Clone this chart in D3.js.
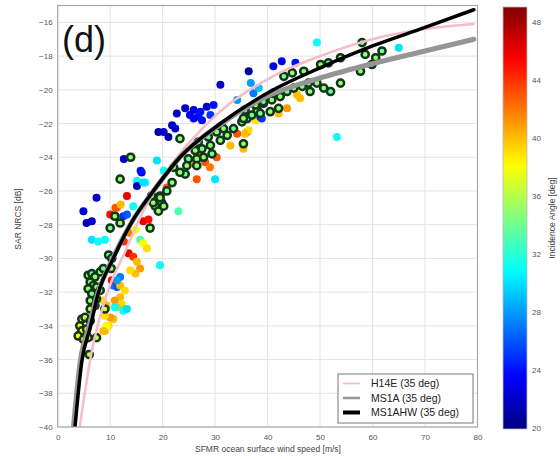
<!DOCTYPE html>
<html><head><meta charset="utf-8">
<script src="https://cdn.jsdelivr.net/npm/d3@7"></script>
<style>body{margin:0;background:#fff;} text{font-family:"Liberation Sans",Arial,sans-serif;}</style>
</head><body><svg id="c" width="560" height="459"></svg>
<script>
// ---------- data ----------
const xTicks = [0,10,20,30,40,50,60,70,80];
const yTicks = [-40,-38,-36,-34,-32,-30,-28,-26,-24,-22,-20,-18,-16];
const cTicks = [20,24,28,32,36,40,44,48];
const panelLabel = "(d)";
const xTitle = "SFMR ocean surface wind speed [m/s]";
const yTitle = "SAR NRCS [dB]";
const cTitle = "Incidence Angle [deg]";
const modelNames = ["H14E (35 deg)","MS1A (35 deg)","MS1AHW (35 deg)"];

// model curves (wind speed m/s, NRCS dB)
const h14eU = [4.2,6.5,9.5,13,16,20,28.5,41,50,60,70,79.3];
const h14eS = [-40,-35.5,-32,-29.5,-27.4,-25.2,-22.0,-19.2,-18.0,-17.0,-16.4,-16.1];
const ms1aU = [3.0,4.3,6.0,7.6,10.5,14.2,18,23.3,31,40.5,50,60,70,79.3];
const ms1aS = [-40,-36.1,-34.0,-32.1,-30,-27.8,-26.1,-24.0,-22.05,-20.3,-19.3,-18.45,-17.7,-17.0];
const ms1ahwU = [3.3,4.6,6.2,7.7,10.6,14.2,18,23.3,31,40.5,50,60,70,79.3];
const ms1ahwS = [-40,-36.1,-34.1,-32.1,-30,-27.8,-26.1,-24.0,-22.0,-20.1,-18.7,-17.4,-16.3,-15.25];

// plain scatter points: wind, NRCS, incidence angle
const dotU = [7.4,13.2,4.9,5.5,6.5,11.3,10.6,12.5,13.2,16.3,17.3,6.5,7.7,9.0,15.7,16.3,17.0,13.5,14.4,15.1,15.7,14.8,13.8,19.5,10.6,11.3,10.3,11.9,12.8,11.9,10.9,12.2,12.8,11.3,12.5,13.2,10.9,10.6,9.7,9.0,10.0,8.7,9.3,9.0,9.3,8.7,11.9,11.3,11.0,12.0,10.0,14.4,13.8,14.8,12.6,
  12.6,16.0,15.1,16.7,15.8,15.1,23.0,30.0,26.2,28.1,26.5,30.3,29.0,20.8,32.9,36.1,37.7,34.2,35.4,26.5,18.9,20.2,16.3,
  36.4,31.0,22.7,24.3,25.9,27.2,25.2,26.8,28.4,29.7,29.1,27.5,25.9,21.8,22.4,19.2,21.1,20.2,38.6,34.2,37.3,38.3,41.1,42.7,45.3,36.8,38.9,45.6,46.2,43.7,42.1,36.4,35.7,49.4,53.2,65.0];
const dotS = [-26.4,-26.3,-27.2,-27.9,-27.8,-27.0,-27.5,-27.5,-27.4,-27.8,-27.7,-28.9,-29.0,-28.9,-28.9,-29.1,-29.4,-29.7,-29.9,-30.2,-30.6,-30.9,-30.7,-30.4,-31.6,-31.7,-31.3,-31.6,-31.9,-32.3,-32.5,-32.7,-33.0,-32.9,-33.1,-33.0,-32.9,-33.6,-34.0,-34.3,-33.5,-32.5,-32.8,-33.4,-34.0,-34.3,-31.1,-31.3,-27.0,-26.8,-27.4,-26.9,-28.5,-28.3,-29.0,
  -24.1,-24.9,-25.4,-25.5,-24.8,-25.7,-27.2,-25.3,-24.4,-24.3,-25.3,-24.0,-24.6,-25.8,-23.3,-22.5,-21.8,-22.6,-23.5,-23.8,-24.2,-24.8,-25.5,
  -18.9,-19.7,-21.4,-21.1,-21.2,-21.3,-21.5,-21.6,-21.0,-20.9,-21.5,-21.8,-21.7,-22.1,-22.3,-22.5,-22.8,-22.5,-21.6,-20.6,-20.2,-19.9,-18.6,-18.3,-18.4,-19.6,-21.7,-20.3,-20.5,-21.1,-21.4,-22.4,-22.6,-17.2,-22.8,-17.5];
const dotA = [22,46,22,21,22,42,40,25,26,46,45,30,31,31,33,38,39,46,44,40,41,40,39,31,27,26,45,40,39,40,41,39,40,40,31,30,31,40,39,40,41,39,40,39,38,40,27,28,43,40,45,31,42,38,44,
  22,23,31,31,24,22,33,30,42,43,43,43,42,43,40,43,39,43,40,43,30,31,30,
  21,22,22,22,23,24,23,24,22,24,25,24,23,22,22,21,21,22,24,28,27,29,23,23,24,28,25,40,40,41,40,39,40,31,31,30];

// ringed scatter points (near 35 deg): wind, NRCS, incidence angle
const ringU = [5.8,6.5,7.1,6.2,6.8,5.8,7.4,6.5,8.1,6.2,7.4,7.1,6.2,8.1,8.7,9.7,10.3,10.2,9.0,
  4.6,5.2,6.2,4.2,4.6,5.5,3.9,4.9,5.8,7.4,6.0,
  10.9,11.9,10.0,17.9,19.5,19.8,18.6,19.2,17.6,11.9,13.9,
  23.3,26.8,28.7,30.3,31.6,33.5,35.1,36.1,37.0,38.0,39.2,29.1,27.5,26.2,31.0,32.3,29.4,27.8,26.5,24.9,24.6,26.5,24.3,23.3,22.1,21.8,20.8,19.5,18.2,20.2,35.4,
  35.7,35.4,37.7,39.2,40.8,42.4,43.7,45.0,46.6,47.8,49.4,50.7,52.0,50.1,51.6,53.9,53.9,43.1,44.7,46.9,58.0,58.6,59.9,61.8,57.7,40.5,42.1,38.6,48.1,41.1,60.6];
const ringS = [-31.0,-30.9,-31.1,-31.4,-31.6,-31.8,-31.7,-32.1,-31.9,-32.5,-32.4,-32.8,-33.0,-30.8,-30.6,-29.8,-30.0,-30.6,-33.0,
  -33.6,-33.5,-33.7,-34.0,-34.3,-34.2,-34.6,-34.8,-34.7,-34.7,-35.7,
  -27.5,-27.9,-28.2,-26.3,-26.3,-26.7,-26.9,-27.2,-28.2,-25.3,-24.0,
  -22.9,-23.1,-22.8,-22.5,-22.3,-22.3,-21.9,-21.7,-21.5,-21.2,-20.8,-23.3,-23.5,-23.6,-23.0,-22.7,-23.8,-24.0,-24.1,-24.1,-24.5,-24.5,-25.0,-24.9,-24.6,-25.5,-26.0,-26.4,-26.7,-26.9,-23.2,
  -21.2,-21.7,-20.9,-20.7,-20.6,-20.4,-20.1,-19.9,-19.8,-19.6,-19.6,-19.9,-20.1,-18.5,-18.4,-18.1,-19.6,-19.2,-19.0,-18.9,-17.2,-17.9,-18.5,-17.7,-18.9,-21.3,-21.1,-21.4,-20.1,-20.2,-18.1];
const ringA = [35,34,35,35,34,35,35,34,35,35,35,36,36,35,34,34,35,35,37,
  38,37,37,38,38,37,38,38,37,36,36,
  35,35,34,35,35,36,35,35,35,35,35,
  35,35,34,35,35,34,35,35,34,35,35,35,34,35,35,35,34,35,35,34,35,35,34,35,35,35,34,35,35,35,35,
  34,35,35,34,35,35,34,35,35,34,35,35,34,35,34,35,35,34,35,35,34,35,35,34,35,35,35,34,35,35,35];

// ---------- layout ----------
const svg = d3.select("#c");
const x = d3.scaleLinear([0,80],[57.7,477.5]);
const y = d3.scaleLinear([-40,-15],[427,5.5]);
const cScale = d3.scaleLinear([19.9,49],[429,7]);
const norm = d3.scaleLinear([19.9,49],[0,1]).clamp(true);
function jet(t){
  const c = v => Math.max(0, Math.min(1, v));
  return d3.rgb(255*c(1.5-Math.abs(4*t-3)), 255*c(1.5-Math.abs(4*t-2)), 255*c(1.5-Math.abs(4*t-1))).formatHex();
}
const col = a => jet(norm(a));

const defs = svg.append("defs");
defs.append("clipPath").attr("id","clip").append("rect")
  .attr("x",x(0)).attr("y",y(-15)).attr("width",x(80)-x(0)).attr("height",y(-40)-y(-15));

// grid
const g = svg.append("g");
g.selectAll(".gx").data(xTicks).join("line")
  .attr("x1",d=>x(d)).attr("x2",d=>x(d)).attr("y1",y(-15)).attr("y2",y(-40))
  .attr("stroke","#e4e4e4").attr("stroke-width",1);
g.selectAll(".gy").data(yTicks).join("line")
  .attr("x1",x(0)).attr("x2",x(80)).attr("y1",d=>y(d)).attr("y2",d=>y(d))
  .attr("stroke","#e4e4e4").attr("stroke-width",1);

// axes
const xAxis = d3.axisBottom(x).tickValues(xTicks).tickSize(0).tickPadding(7).tickFormat(d3.format("d"));
const yAxis = d3.axisLeft(y).tickValues(yTicks).tickSize(0).tickPadding(5).tickFormat(d=>d3.format("d")(d));
const gx = svg.append("g").attr("transform",`translate(0,${y(-40)})`).call(xAxis);
const gy = svg.append("g").attr("transform",`translate(${x(0)},0)`).call(yAxis);
[gx,gy].forEach(a=>{ a.select(".domain").remove(); a.selectAll("text").attr("font-size",8).attr("fill","#555").attr("font-family","Liberation Sans, Arial, sans-serif"); });

// scatter
const plot = svg.append("g").attr("clip-path","url(#clip)");
const dots = dotU.map((u,i)=>({u, s:dotS[i], a:dotA[i]}));
plot.selectAll(".dot").data(dots).join("circle")
  .attr("cx",d=>x(d.u)).attr("cy",d=>y(d.s)).attr("r",4)
  .attr("fill",d=>col(d.a));
const rings = ringU.map((u,i)=>({u, s:ringS[i], a:ringA[i]}));
plot.selectAll(".ring").data(rings).join("circle")
  .attr("cx",d=>x(d.u)).attr("cy",d=>y(d.s)).attr("r",3.6)
  .attr("fill",d=>col(d.a)).attr("stroke","#12361a").attr("stroke-width",2.5);

// model lines
const line = d3.line().x(d=>x(d[0])).y(d=>y(d[1])).curve(d3.curveMonotoneX);
const models = [
  {u:h14eU, s:h14eS, color:"#f6bcc8", w:2.5},
  {u:ms1aU, s:ms1aS, color:"#959595", w:5},
  {u:ms1ahwU, s:ms1ahwS, color:"#000000", w:3.5}
];
models.forEach(m=>{
  plot.append("path").datum(m.u.map((u,i)=>[u,m.s[i]]))
    .attr("d",line).attr("fill","none").attr("stroke",m.color).attr("stroke-width",m.w)
    .attr("stroke-linecap","round").attr("stroke-linejoin","round");
});

// frame
svg.append("rect").attr("x",x(0)).attr("y",y(-15)).attr("width",x(80)-x(0)).attr("height",y(-40)-y(-15))
  .attr("fill","none").attr("stroke","#a8a8a8").attr("stroke-width",1.2);

// panel label
svg.append("text").attr("x",62).attr("y",52).attr("font-size",36).attr("fill","#111").text(panelLabel);

// axis titles
svg.append("text").attr("x",268).attr("y",452).attr("text-anchor","middle").attr("font-size",8.5).attr("fill","#444").text(xTitle);
svg.append("text").attr("transform","translate(21,219) rotate(-90)").attr("text-anchor","middle").attr("font-size",8.5).attr("fill","#444").text(yTitle);

// legend
const lg = svg.append("g");
lg.append("rect").attr("x",338).attr("y",374).attr("width",135).attr("height",49)
  .attr("fill","#fff").attr("stroke","#777").attr("stroke-width",1);
models.forEach((m,i)=>{
  const yy = 383.5 + i*14.5;
  lg.append("line").attr("x1",343).attr("x2",360).attr("y1",yy).attr("y2",yy)
    .attr("stroke",m.color).attr("stroke-width",[1.8,2.5,4][i]);
  lg.append("text").attr("x",371).attr("y",yy+3.8).attr("font-size",10.5).attr("fill","#222").text(modelNames[i]);
});

// colorbar
const grad = defs.append("linearGradient").attr("id","jet").attr("x1",0).attr("y1",1).attr("x2",0).attr("y2",0);
d3.range(0,1.0001,0.02).forEach(t=>grad.append("stop").attr("offset",t).attr("stop-color",jet(t)));
svg.append("rect").attr("x",503).attr("y",cScale(49)).attr("width",24).attr("height",cScale(19.9)-cScale(49))
  .attr("fill","url(#jet)").attr("stroke","#bbb").attr("stroke-width",0.8);
const cAxis = d3.axisRight(cScale).tickValues(cTicks).tickSize(0).tickPadding(5).tickFormat(d3.format("d"));
const gc = svg.append("g").attr("transform","translate(527,0)").call(cAxis);
gc.select(".domain").remove();
gc.selectAll("text").attr("font-size",8).attr("fill","#555").attr("font-family","Liberation Sans, Arial, sans-serif");
svg.append("text").attr("transform","translate(555,218) rotate(-90)").attr("text-anchor","middle").attr("font-size",8.5).attr("fill","#444").text(cTitle);
</script></body></html>
